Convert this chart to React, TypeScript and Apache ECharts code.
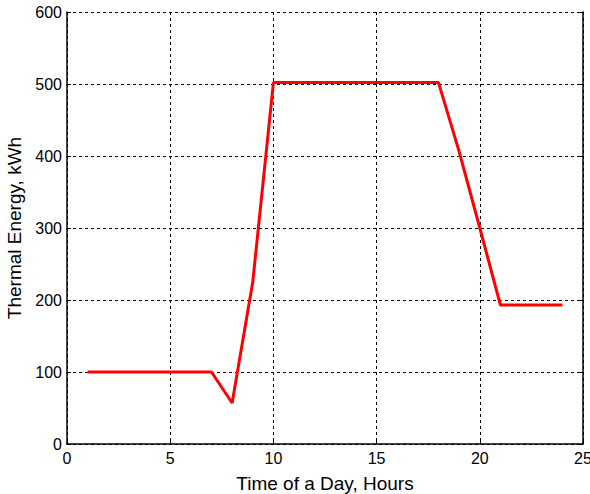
import React, { useEffect, useRef } from "react";
import * as echarts from "echarts";

const hours = [1, 2, 3, 4, 5, 6, 7, 8, 9, 10, 11, 12, 13, 14, 15, 16, 17, 18, 19, 20, 21, 22, 23, 24];
const energy = [100, 100, 100, 100, 100, 100, 100, 57, 225, 502, 502, 502, 502, 502, 502, 502, 502, 502, 406, 300, 193, 193, 193, 193];
const xTitle = "Time of a Day, Hours";
const yTitle = "Thermal Energy, kWh";

export default function App() {
  const ref = useRef<HTMLDivElement>(null);
  useEffect(() => {
    document.body.style.margin = "0";
    const chart = echarts.init(ref.current!, null, { renderer: "svg" });
    const font = "'Liberation Sans', Arial, sans-serif";
    const grid = { show: true, lineStyle: { color: "#000", type: [3, 3] as any, width: 1 } };
    chart.setOption({
      animation: false,
      backgroundColor: "#fff",
      grid: { left: 67, right: 7, top: 12, bottom: 50, containLabel: false, outerBoundsMode: "none" } as any,
      xAxis: {
        type: "value",
        min: 0,
        max: 25,
        interval: 5,
        name: xTitle,
        nameLocation: "middle",
        nameGap: 30,
        nameTextStyle: { fontFamily: font, fontSize: 19, color: "#000" },
        axisLine: { show: true, lineStyle: { color: "#000", width: 1.5 } },
        axisTick: { show: true, inside: true, length: 4, lineStyle: { color: "#000" } },
        axisLabel: { fontFamily: font, fontSize: 16, color: "#000", margin: 6 },
        splitLine: grid,
      },
      yAxis: [
        {
          type: "value",
          min: 0,
          max: 600,
          interval: 100,
          name: yTitle,
          nameLocation: "middle",
          nameGap: 41,
          nameTextStyle: { fontFamily: font, fontSize: 19, color: "#000" },
          axisLine: { show: true, lineStyle: { color: "#000", width: 1.5 } },
          axisTick: { show: true, inside: true, length: 4, lineStyle: { color: "#000" } },
          axisLabel: { fontFamily: font, fontSize: 16, color: "#000", margin: 5 },
          splitLine: grid,
        },
        {
          type: "value",
          min: 0,
          max: 600,
          interval: 100,
          position: "right",
          axisLine: { show: true, lineStyle: { color: "#000", width: 1.5 } },
          axisTick: { show: true, inside: true, length: 4, lineStyle: { color: "#000" } },
          axisLabel: { show: false },
          splitLine: { show: false },
        },
      ],
      series: [
        {
          type: "line",
          data: hours.map((h, i) => [h, energy[i]]),
          symbol: "none",
          lineStyle: { color: "#ff0000", width: 3 },
          itemStyle: { color: "#ff0000" },
        },
      ],
    });
    return () => chart.dispose();
  }, []);
  return <div ref={ref} style={{ width: 590, height: 494 }} />;
}
